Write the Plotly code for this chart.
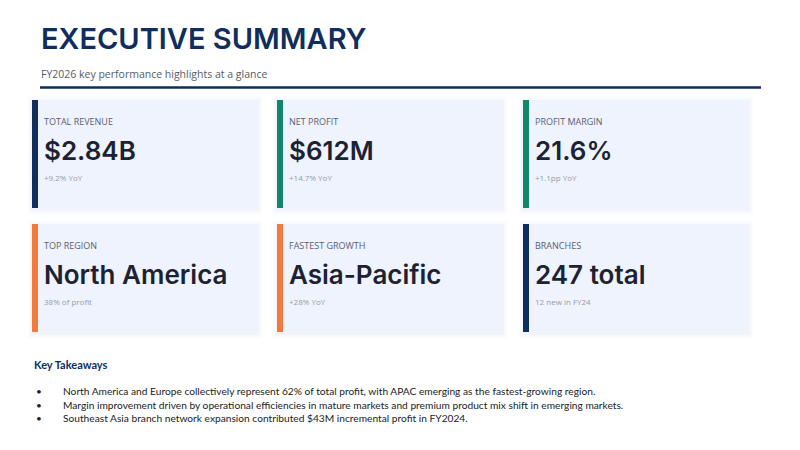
"""
Executive summary slide - KPI cards plus key takeaways
"""

import plotly.graph_objects as go

# -----------------------------------------
# DATA
# -----------------------------------------
kpi_labels = ["TOTAL REVENUE", "NET PROFIT", "PROFIT MARGIN",
              "TOP REGION", "FASTEST GROWTH", "BRANCHES"]
kpi_values = ["$2.84B", "$612M", "21.6%",
              "North America", "Asia-Pacific", "247 total"]
kpi_notes = ["+9.2% YoY", "+14.7% YoY", "+1.1pp YoY",
             "38% of profit", "+28% YoY", "12 new in FY24"]

takeaways = [
    "North America and Europe collectively represent 62% of total profit, with APAC emerging as the fastest-growing region.",
    "Margin improvement driven by operational efficiencies in mature markets and premium product mix shift in emerging markets.",
    "Southeast Asia branch network expansion contributed $43M incremental profit in FY2024.",
]

title_text = "EXECUTIVE SUMMARY"
subtitle_text = "FY2026 key performance highlights at a glance"

# -----------------------------------------
# STYLE / LAYOUT
# -----------------------------------------
NAVY = "#0f2e5e"
GREEN = "#12876b"
ORANGE = "#f5793b"
accent_colors = [NAVY, GREEN, GREEN, ORANGE, ORANGE, NAVY]

# the page itself sits 8px in from the window edge, so pull everything back
OFF = 8

CARD_BG = "#eef3fd"
card_x = [32 - OFF, 277 - OFF, 523 - OFF]
card_y = [100 - OFF, 224 - OFF]
CARD_W = 225
CARD_H = 108
BAR_W = 6

fig = go.Figure()
shapes = []
annotations = []

# header
annotations.append(dict(x=39 - OFF, y=38 - OFF, text=title_text,
                        showarrow=False, xanchor="left", yanchor="middle",
                        font=dict(family="Inter", size=29, weight=600, color=NAVY)))
annotations.append(dict(x=39 - OFF, y=74 - OFF, text=subtitle_text, showarrow=False,
                        xanchor="left", yanchor="middle",
                        font=dict(family="Open Sans", size=10.5, color="#555b66")))
shapes.append(dict(type="line", x0=40 - OFF, x1=761 - OFF, y0=87.5 - OFF, y1=87.5 - OFF,
                   line=dict(color=NAVY, width=2.5)))

# cards
for i in range(len(kpi_labels)):
    x0 = card_x[i % 3]
    y0 = card_y[i // 3]
    # soft shadow
    for k, op in [(6, 0.025), (4, 0.035), (2, 0.05)]:
        shapes.append(dict(type="rect", x0=x0 - k + 1, x1=x0 + CARD_W + k,
                           y0=y0 - k + 2, y1=y0 + CARD_H + k + 1,
                           fillcolor="#8a96c8", opacity=op, line=dict(width=0),
                           layer="below"))
    shapes.append(dict(type="rect", x0=x0, x1=x0 + CARD_W, y0=y0, y1=y0 + CARD_H,
                       fillcolor=CARD_BG, line=dict(width=0)))
    shapes.append(dict(type="rect", x0=x0, x1=x0 + BAR_W, y0=y0, y1=y0 + CARD_H,
                       fillcolor=accent_colors[i], line=dict(width=0)))

    tx = x0 + 10
    annotations.append(dict(x=tx, y=y0 + 21, text=kpi_labels[i], showarrow=False,
                            xanchor="left", yanchor="middle",
                            font=dict(family="Open Sans", size=9, color="#5a6070")))
    annotations.append(dict(x=tx, y=y0 + 50, text=kpi_values[i],
                            showarrow=False, xanchor="left", yanchor="middle",
                            font=dict(family="Inter", size=26, weight=600,
                                      color="#1c2233")))
    annotations.append(dict(x=tx, y=y0 + 77, text=kpi_notes[i], showarrow=False,
                            xanchor="left", yanchor="middle",
                            font=dict(family="Open Sans", size=8, color="#969ca8")))

# key takeaways
annotations.append(dict(x=32 - OFF, y=364 - OFF, text="<b>Key Takeaways</b>",
                        showarrow=False, xanchor="left", yanchor="middle",
                        font=dict(family="Lato", size=11, color=NAVY)))
for j, t in enumerate(takeaways):
    yy = 391 - OFF + j * 13.5
    annotations.append(dict(x=34 - OFF, y=yy, text="•", showarrow=False,
                            xanchor="left", yanchor="middle",
                            font=dict(family="Lato", size=10, color="#222222")))
    annotations.append(dict(x=61 - OFF, y=yy, text=t, showarrow=False,
                            xanchor="left", yanchor="middle",
                            font=dict(family="Lato", size=10.2, color="#222222")))

fig.update_layout(
    width=800, height=450, autosize=False,
    margin=dict(l=0, r=0, t=0, b=0),
    paper_bgcolor="white", plot_bgcolor="white",
    xaxis=dict(range=[0, 800], visible=False, fixedrange=True),
    yaxis=dict(range=[450, 0], visible=False, fixedrange=True),
    shapes=shapes, annotations=annotations, showlegend=False,
)

fig.write_html("out.html")
